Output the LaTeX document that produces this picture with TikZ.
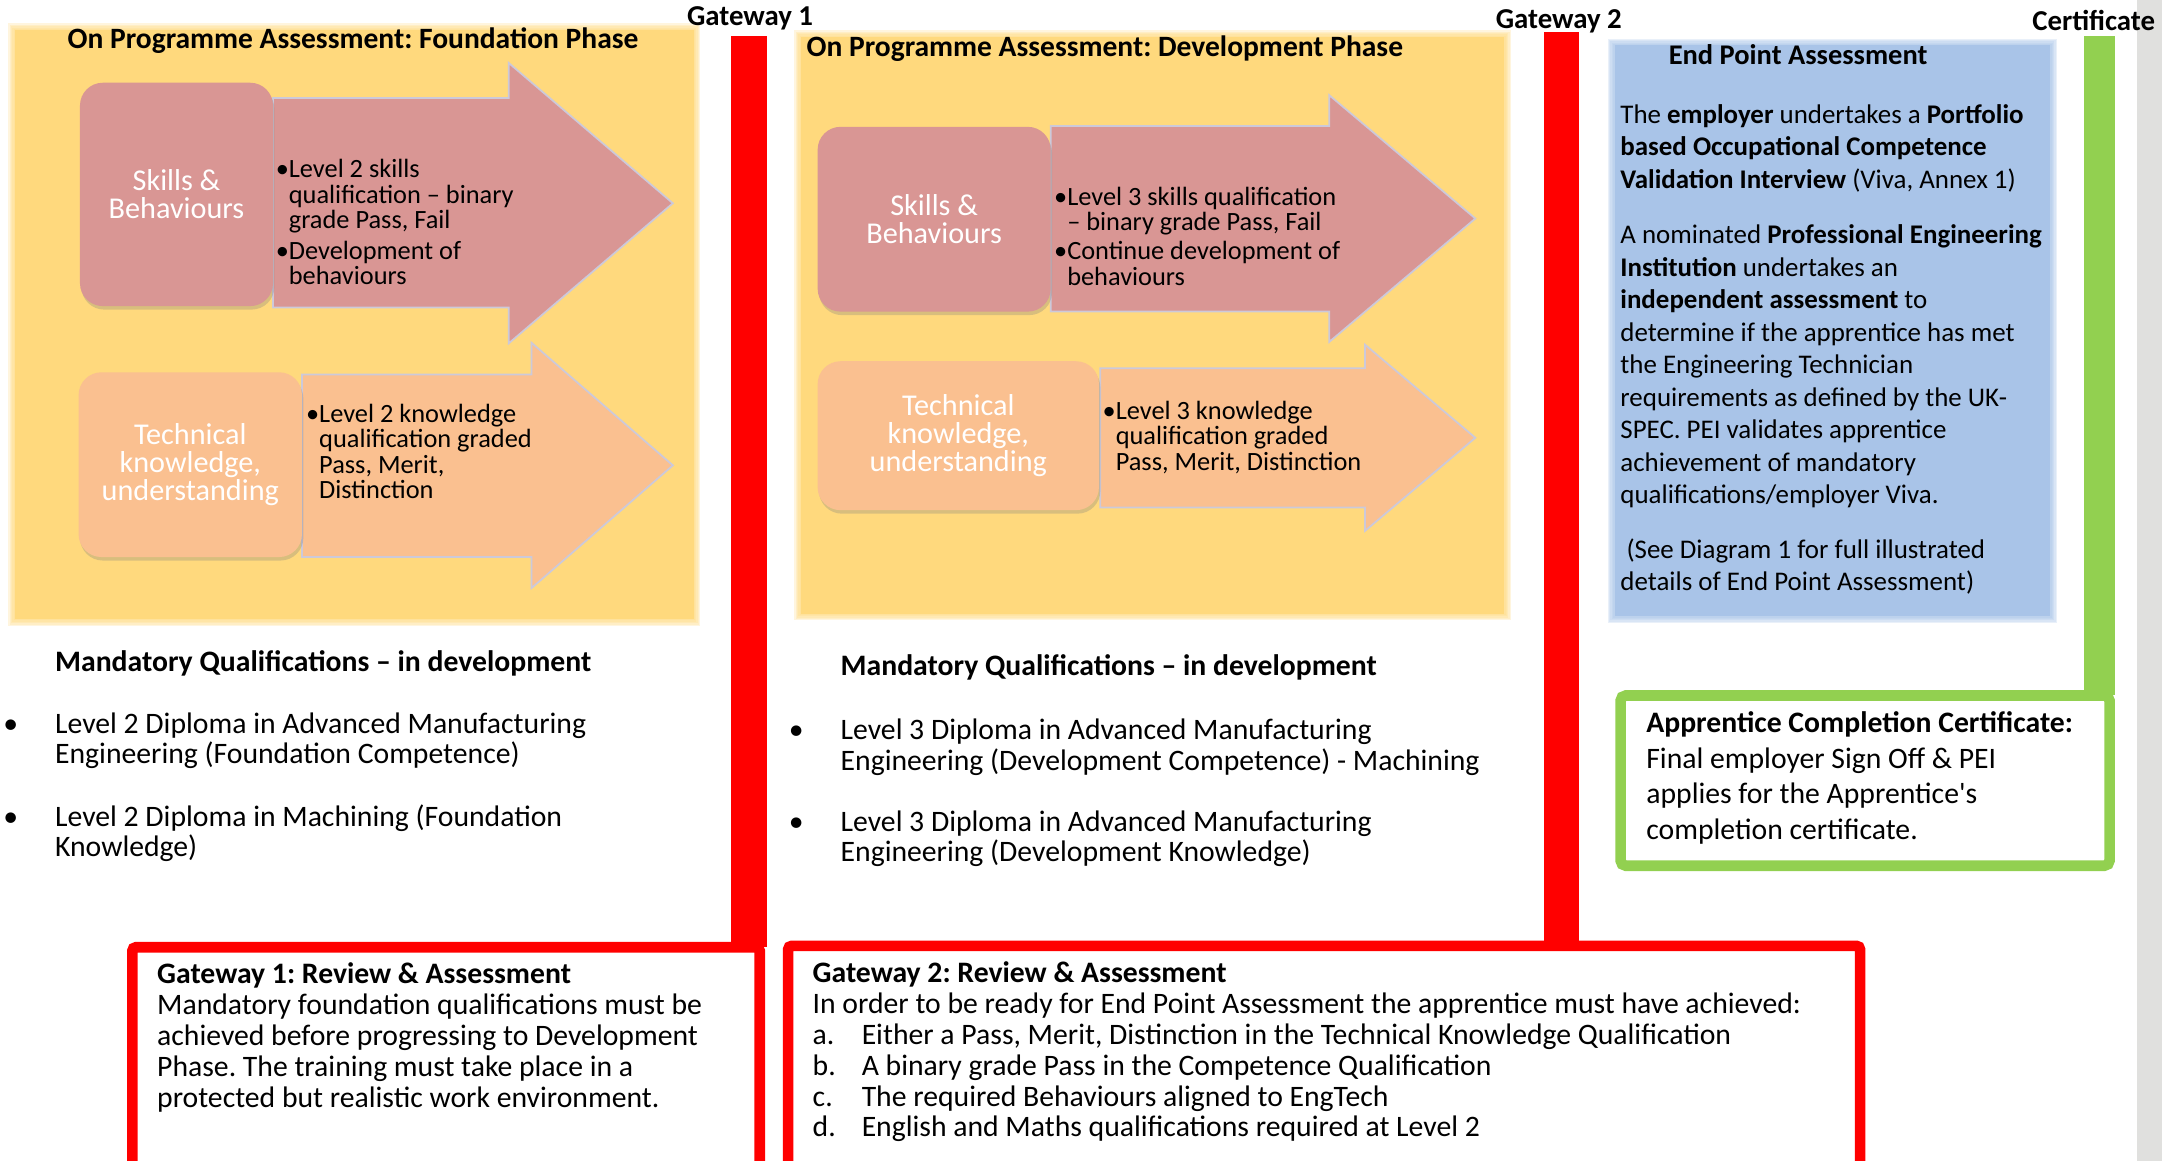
\documentclass[tikz,border=0pt]{standalone}
\usepackage{fontspec}
\setmainfont{Carlito}
\usepackage{tikz}
\usetikzlibrary{shadows}
\setlength{\lineskiplimit}{-10pt}
\frenchspacing
\newcommand*{\pu}{0.13788mm}
\newcommand*{\softpanel}[5]{%
    \fill [#1] (#2+3,#3+3) rectangle (#4-3,#5-3);
    \foreach \d in {0,...,5} {
        \fill [#1, opacity=0.25] (#2+3-\d,#3+3-\d) rectangle (#4-3+\d,#5-3+\d);
    }
}
\newcommand*{\mqbullet}{\llap{\textbullet\hspace{10.5pt}}}
\newcommand*{\gwitem}[1]{\makebox[13.97pt][l]{#1}}
\newcommand*{\ph}{\phantom{\textbullet}}

\definecolor{panelyellow}{HTML}{FFD97D}
\definecolor{skillpink}{HTML}{D99694}
\definecolor{techpeach}{HTML}{FAC090}
\definecolor{epablue}{HTML}{A9C4E8}
\definecolor{gatered}{HTML}{FF0000}
\definecolor{certgreen}{HTML}{92D050}
\definecolor{edgegrey}{HTML}{E0E0DE}
\definecolor{arrowline}{HTML}{CCC9DA}

% multi-line texts are placed at the baseline of their last line
\tikzset{
    every node/.style={inner sep=0pt, outer sep=0pt},
    txt/.style={anchor=base west, align=left},
    bodytxt/.style={txt, font=\fontsize{8.45}{8.8}\selectfont},
    headtxt/.style={txt, font=\bfseries\fontsize{8.4}{9}\selectfont},
    gatelabel/.style={font=\bfseries\fontsize{8.2}{9}\selectfont},
    arrowtxt/.style={txt, font=\fontsize{7.5}{7.26}\selectfont},
    skillbox/.style={rounded corners=6.5pt, fill=skillpink, text=white, align=center,
        font=\fontsize{8.6}{7.9}\selectfont,
        drop shadow={shadow xshift=0.4pt, shadow yshift=-1pt, opacity=0.3}},
    techbox/.style={skillbox, fill=techpeach},
    skillarrow/.style={fill=skillpink, draw=arrowline, line width=0.5pt},
    techarrow/.style={fill=techpeach, draw=arrowline, line width=0.5pt},
    gatebox/.style={draw=gatered, fill=white, line width=3pt, rounded corners=1pt},
    certbox/.style={draw=certgreen, fill=white, line width=3pt, rounded corners=1.5pt}
}

\begin{document}
\begin{tikzpicture}[x=\pu, y=-\pu]
    \useasboundingbox (0,0) rectangle (1568,842);
    \clip (0,0) rectangle (1568,842);
    \fill [edgegrey] (1550,0) rectangle (1568,842);

    % phase panels
    \softpanel{panelyellow}{8}{19}{506}{452}
    \softpanel{panelyellow}{578}{24}{1094}{448}
    \softpanel{epablue}{1168}{30}{1490}{450}

    % gateway bars
    \fill [gatered] (530,26) rectangle (556.5,687);
    \fill [gatered] (1120,23) rectangle (1145.5,686);
    \fill [certgreen] (1511.5,26) rectangle (1534,504);

    \node [gatelabel, anchor=base] (gw1) at (544,18.3) {Gateway 1};
    \node [gatelabel, anchor=base] (gw2) at (1130.5,20.6) {Gateway 2};
    \node [gatelabel, anchor=base east] (cert) at (1563,22.3) {Certificate};

    % foundation phase
    \node [headtxt] (ftitle) at (49,35) {On Programme Assessment: Foundation Phase};
    \draw [skillarrow] (198,71) -- (369,71) -- (369,45.7) -- (488,147.4) -- (369,249) -- (369,223) -- (198,223) -- cycle;
    \draw [techarrow] (219,271.6) -- (385.5,271.6) -- (385.5,248.6) -- (488,337.5) -- (385.5,426.5) -- (385.5,404) -- (219,404) -- cycle;
    \node [skillbox, minimum width=140*\pu, minimum height=162*\pu] (fskill) at (128,141) {Skills \&\\Behaviours};
    \node [techbox, minimum width=162*\pu, minimum height=134*\pu] (ftech) at (138,337) {Technical\\knowledge,\\understanding};
    \node [arrowtxt] (fskilltxt) at (200,206.4) {\textbullet Level 2 skills\\ \ph qualification -- binary\\ \ph grade Pass, Fail\\[1.4pt]
        \textbullet Development of\\ \ph behaviours};
    \node [arrowtxt] (ftechtxt) at (222,361.8) {\textbullet Level 2 knowledge\\ \ph qualification graded\\ \ph Pass, Merit,\\ \ph Distinction};

    % development phase
    \node [headtxt] (dtitle) at (585,41) {On Programme Assessment: Development Phase};
    \draw [skillarrow] (762,91.4) -- (964,91.4) -- (964,69) -- (1070,158.5) -- (964,248) -- (964,226) -- (762,226) -- cycle;
    \draw [techarrow] (798,267) -- (990,267) -- (990,250) -- (1070,317.5) -- (990,385) -- (990,368) -- (798,368) -- cycle;
    \node [skillbox, minimum width=169*\pu, minimum height=134*\pu] (dskill) at (677.5,159) {Skills \&\\Behaviours};
    \node [techbox, minimum width=204*\pu, minimum height=108*\pu] (dtech) at (695,316) {Technical\\knowledge,\\understanding};
    \node [arrowtxt] (dskilltxt) at (764.5,207) {\textbullet Level 3 skills qualification\\ \ph -- binary grade Pass, Fail\\[1pt]
        \textbullet Continue development of\\ \ph behaviours};
    \node [arrowtxt] (dtechtxt) at (799.7,341) {\textbullet Level 3 knowledge\\ \ph qualification graded\\ \ph Pass, Merit, Distinction};

    % end point assessment
    \node [txt, font=\bfseries\fontsize{8.1}{9}\selectfont] (epatitle) at (1210.3,46.8) {End Point Assessment};
    \node [txt, font=\fontsize{7.66}{9.23}\selectfont] (epatxt) at (1175.2,428.3) {The \textbf{employer} undertakes a \textbf{Portfolio}\\
        \textbf{based Occupational Competence}\\
        \textbf{Validation Interview} (Viva, Annex 1)\\[6.6pt]
        A nominated \textbf{Professional Engineering}\\
        \textbf{Institution} undertakes an\\
        \textbf{independent assessment} to\\
        determine if the apprentice has met\\
        the Engineering Technician\\
        requirements as defined by the UK-\\
        SPEC. PEI validates apprentice\\
        achievement of mandatory\\
        qualifications/employer Viva.\\[6.3pt]
        \ (See Diagram 1 for full illustrated\\
        details of End Point Assessment)};

    % mandatory qualifications
    \node [headtxt, font=\bfseries\fontsize{8.45}{9}\selectfont] (fmq) at (40,486.7) {Mandatory Qualifications -- in development};
    \node [bodytxt, font=\fontsize{8.45}{8.63}\selectfont] (fmq1) at (40,553.8) {\mqbullet Level 2 Diploma in Advanced Manufacturing\\Engineering (Foundation Competence)};
    \node [bodytxt, font=\fontsize{8.45}{8.63}\selectfont] (fmq2) at (40,621.3) {\mqbullet Level 2 Diploma in Machining (Foundation\\Knowledge)};
    \node [headtxt, font=\bfseries\fontsize{8.45}{9}\selectfont] (dmq) at (609.7,489.6) {Mandatory Qualifications -- in development};
    \node [bodytxt, font=\fontsize{8.45}{8.63}\selectfont] (dmq1) at (609.7,558.5) {\mqbullet Level 3 Diploma in Advanced Manufacturing\\Engineering (Development Competence) - Machining};
    \node [bodytxt, font=\fontsize{8.45}{8.63}\selectfont] (dmq2) at (609.7,624.8) {\mqbullet Level 3 Diploma in Advanced Manufacturing\\Engineering (Development Knowledge)};

    % gateway reviews and certificate
    \draw [gatebox] (96,687) rectangle (551,870);
    \draw [gatebox] (571.6,686) rectangle (1349,870);
    \draw [certbox] (1175.3,504.4) rectangle (1530,627.9);
    \node [bodytxt] (gw1txt) at (114,803) {\textbf{Gateway 1: Review \& Assessment}\\
        Mandatory foundation qualifications must be\\
        achieved before progressing to Development\\
        Phase. The training must take place in a\\
        protected but realistic work environment.};
    \node [bodytxt] (gw2txt) at (589.4,824.6) {\textbf{Gateway 2: Review \& Assessment}\\
        In order to be ready for End Point Assessment the apprentice must have achieved:\\
        \gwitem{a.}Either a Pass, Merit, Distinction in the Technical Knowledge Qualification\\
        \gwitem{b.}A binary grade Pass in the Competence Qualification\\
        \gwitem{c.}The required Behaviours aligned to EngTech\\
        \gwitem{d.}English and Maths qualifications required at Level 2};
    \node [bodytxt, font=\fontsize{8.45}{10.1}\selectfont] (certtxt) at (1194,608.7) {\textbf{Apprentice Completion Certificate:}\\
        Final employer Sign Off \& PEI\\
        applies for the Apprentice\textquotesingle s\\
        completion certificate.};
\end{tikzpicture}
\end{document}
